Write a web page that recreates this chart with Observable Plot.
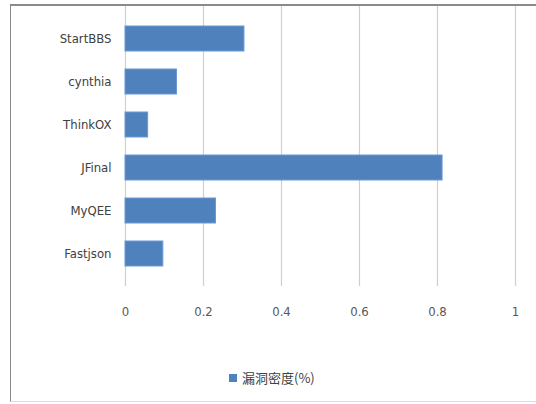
<!DOCTYPE html>
<html><head><meta charset="utf-8">
<script src="https://cdn.jsdelivr.net/npm/d3@7"></script>
<script src="https://cdn.jsdelivr.net/npm/@observablehq/plot@0.6"></script>
<style>
body{margin:0;background:#fff;width:536px;height:404px;overflow:hidden;position:relative;font-family:"Liberation Sans Narrow","DejaVu Sans Condensed",sans-serif;}
#frame{position:absolute;left:10px;top:4px;width:540px;height:395px;border-top:2px solid #8a8a8a;border-left:1px solid #8a8a8a;border-bottom:1px solid #dcdcdc;}
#chart{position:absolute;left:0;top:0;}
#legend{position:absolute;left:229px;top:368px;font-family:"Noto Sans CJK SC",sans-serif;font-size:13px;color:#404040;display:flex;align-items:center;}
#legend span.sw{display:inline-block;width:8px;height:8px;background:#4F81BD;margin-right:5px;}
</style></head>
<body>
<div id="frame"></div>
<div id="chart"></div>
<div id="legend"><span class="sw"></span><span id="ltext"></span></div>
<script>
const categories = ["StartBBS","cynthia","ThinkOX","JFinal","MyQEE","Fastjson"];
const values = [0.305, 0.132, 0.058, 0.813, 0.232, 0.097];
const xTicks = [0, 0.2, 0.4, 0.6, 0.8, 1];
const seriesName = "漏洞密度(%)";

const data = categories.map((c,i)=>({name:c, value:values[i]}));
document.getElementById("ltext").textContent = seriesName;

const plot = Plot.plot({
  width: 536, height: 330,
  marginLeft: 125, marginRight: 21, marginTop: 6, marginBottom: 44,
  style: {fontFamily: '"Liberation Sans Narrow","DejaVu Sans Condensed",sans-serif', fontSize: "13px", color: "#404040", background: "transparent"},
  x: {domain: [0,1], ticks: xTicks, tickFormat: d=>String(d), label: null, tickSize: 0, tickPadding: 20},
  y: {domain: categories, padding: 0.42, label: null, tickSize: 0, tickPadding: 14},
  marks: [
    Plot.ruleX(xTicks, {stroke: "#cfcfcf", strokeWidth: 1.2, strokeOpacity: 1}),
    Plot.barX(data, {x: "value", y: "name", fill: "#4F81BD", stroke: "#6a9ad6", strokeWidth: 1}),
    Plot.axisX({ticks: xTicks, tickFormat: d=>String(d), tickSize: 0, tickPadding: 20, label: null, color: "#595959"}),
    Plot.axisY({tickSize: 0, tickPadding: 14, label: null, color: "#404040"})
  ]
});
document.getElementById("chart").appendChild(plot);
</script>
</body></html>
